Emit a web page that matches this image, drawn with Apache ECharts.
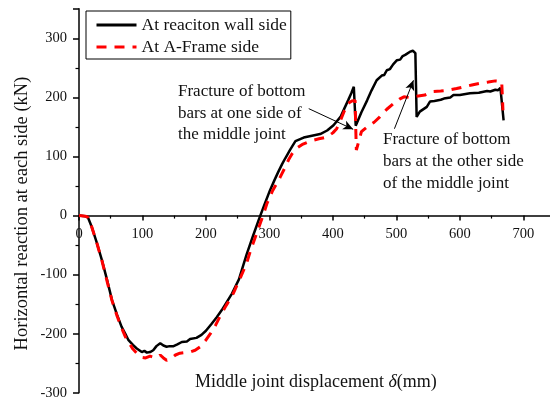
<!DOCTYPE html>
<html>
<head>
<meta charset="utf-8">
<script src="https://cdn.jsdelivr.net/npm/echarts@6/dist/echarts.min.js"></script>
<style>html,body{margin:0;padding:0;background:#fff}#c{width:550px;height:407px}</style>
</head>
<body>
<div id="c"></div>
<script>
// Series names
const seriesNames = ['At reaciton wall side', 'At A-Frame side'];

// Black curve: reaction wall side (displacement mm, reaction kN)
const wallX = [0,10,14,20,28,36,44,52,60,67,73,78,85,91,99,103,107,112,117,122,128,133,138,143,149,155,162,170,175,178,185,193,200,209,217,225,233,241,252,264,274,283,292,301,308,314,320,325,333,341,354,367,380,391,401,412,418,424,429,433,435,436,437,445,454,461,469,477,481,485,490,495,498,501,506,510,514,517,521,524,526,528,530,531,532,537,548,553,560,570,575,578,585,590,600,616,630,643,648,656,660,664,667,669];
const wallY = [0,-1,-3,-19,-46,-75,-108,-143,-168,-188,-200,-211,-219,-225,-231,-229,-232,-231,-228,-221,-216,-220,-222,-221,-221,-218,-214,-213,-209,-210,-207,-202,-195,-183,-172,-160,-146,-132,-108,-66,-35,-8,18,43,60,74,87,97,112,126,132,135,138,144,153,167,181,195,207,218,218,152,150,175,195,212,229,237,238,246,248,256,255,263,264,270,272,274,277,276,279,280,275,220,167,176,184,193,194,196,198,195,200,204,204,207,208,211,210,213,212,216,218,161];

// Red dashed curve: A-Frame side
const frameX = [0,10,14,20,28,36,44,52,60,67,73,78,85,91,99,105,112,118,124,128,133,138,145,152,159,167,175,183,191,199,207,215,222,232,243,254,264,270,280,291,296,305,317,324,330,336,343,353,364,378,391,400,406,412,418,424,430,435,436,437,445,454,465,474,485,496,505,512,520,532,545,558,570,581,595,607,619,632,645,656,666,668];
const frameY = [0,-1,-3,-19,-46,-76,-110,-144,-170,-190,-205,-214,-226,-233,-240,-241,-238,-240,-240,-236,-241,-245,-242,-236,-233,-232,-231,-228,-222,-212,-200,-186,-171,-152,-132,-106,-81,-60,-30,3,20,42,65,80,94,105,114,121,126,130,133,140,147,161,177,190,194,195,150,111,142,150,158,167,180,190,197,201,200,202,204,210,211,212,215,218,221,224,226,228,227,178];

// Axis ticks
const xTicks = {min: 0, max: 750, interval: 100};
const yTicks = {min: -300, max: 350, interval: 100};

// Annotations (text lines) and arrows [from, to] in data coordinates
const note1 = ['Fracture of bottom', 'bars at one side of', 'the middle joint'];
const note2 = ['Fracture of bottom', 'bars at the other side', 'of the middle joint'];
const arrows = [[[362, 181], [432, 146]], [[497, 147], [527, 229]]];

const zip = (xs, ys) => xs.map((x, i) => [x, ys[i]]);
const FONT = 'Liberation Serif';
const TXT = '#111';

const gridTop = 8.8, gridH = 384;
// pixel offset that puts the x axis on y = 0
const zeroOffset = -gridH * (0 - yTicks.min) / (yTicks.max - yTicks.min);

const chart = echarts.init(document.getElementById('c'), null, {renderer: 'canvas'});
chart.setOption({
  animation: false,
  backgroundColor: '#fff',
  grid: {left: 79, top: gridTop, width: 476, height: gridH, containLabel: false, outerBoundsMode: 'none'},
  legend: {
    left: 86, top: 11, orient: 'vertical',
    padding: [5, 4, 3, 9], itemGap: 4, itemWidth: 40, itemHeight: 14,
    borderColor: '#000', borderWidth: 1, backgroundColor: '#fff',
    itemStyle: {opacity: 0},
    lineStyle: {width: 3},
    textStyle: {fontFamily: FONT, fontSize: 17.5, color: TXT},
    data: seriesNames
  },
  xAxis: {
    type: 'value', min: xTicks.min, max: xTicks.max, interval: xTicks.interval,
    position: 'bottom', offset: zeroOffset,
    axisLine: {onZero: false, lineStyle: {color: '#000', width: 1.5}},
    axisTick: {show: true, length: 5, lineStyle: {width: 1.5}},
    minorTick: {show: true, splitNumber: 2, length: 3, lineStyle: {color: '#000', width: 1.2}},
    axisLabel: {fontFamily: FONT, fontSize: 14.5, color: TXT, margin: 11, showMaxLabel: false},
    splitLine: {show: false}
  },
  yAxis: {
    type: 'value', min: yTicks.min, max: yTicks.max, interval: yTicks.interval,
    axisLine: {show: true, onZero: false, lineStyle: {color: '#000', width: 1.5}},
    axisTick: {show: true, length: 6, lineStyle: {width: 1.5}},
    minorTick: {show: true, splitNumber: 2, length: 3.5, lineStyle: {color: '#000', width: 1.2}},
    axisLabel: {fontFamily: FONT, fontSize: 14.5, color: TXT, margin: 12, showMaxLabel: false},
    splitLine: {show: false}
  },
  series: [
    {
      name: seriesNames[0], type: 'line', data: zip(wallX, wallY),
      showSymbol: false, symbol: 'none', z: 3,
      lineStyle: {color: '#000', width: 2.5},
      itemStyle: {color: '#000'},
      markLine: {
        silent: true, symbol: ['none', 'arrow'], symbolSize: [7, 10],
        label: {show: false},
        lineStyle: {color: '#000', width: 1, type: 'solid'},
        data: arrows.map(a => [{coord: a[0]}, {coord: a[1]}])
      }
    },
    {
      name: seriesNames[1], type: 'line', data: zip(frameX, frameY),
      showSymbol: false, symbol: 'none', z: 4,
      lineStyle: {color: '#ff0000', width: 3, type: [10, 8]},
      itemStyle: {color: '#ff0000'}
    }
  ],
  graphic: [
    {type: 'text', left: 178, top: 81, style: {text: note1.join('\n'), font: '17px "Liberation Serif"', fill: TXT, lineHeight: 21.5}},
    {type: 'text', left: 383, top: 129, style: {text: note2.join('\n'), font: '17px "Liberation Serif"', fill: TXT, lineHeight: 22}},
    {type: 'text', left: 195, top: 373, style: {
      text: 'Middle joint displacement {d|δ}(mm)',
      font: '18px "Liberation Serif"', fill: TXT,
      rich: {d: {fontFamily: FONT, fontSize: 18, fontStyle: 'italic', fill: TXT}}
    }},
    {type: 'text', x: 22, y: 213.5, rotation: Math.PI / 2, style: {
      text: 'Horizontal reaction at each side (kN)', font: '18.5px "Liberation Serif"', fill: TXT,
      align: 'center', verticalAlign: 'middle'
    }}
  ]
});
</script>
</body>
</html>
